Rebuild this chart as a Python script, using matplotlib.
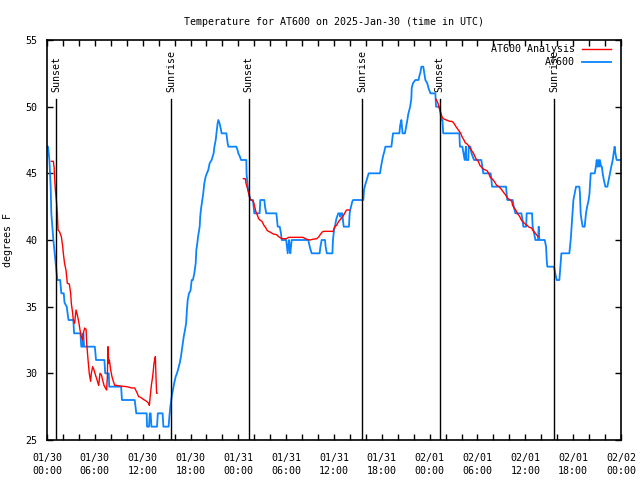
import matplotlib
matplotlib.use("Agg")
import matplotlib.pyplot as plt
from matplotlib.ticker import MultipleLocator

title = "Temperature for AT600 on 2025-Jan-30 (time in UTC)"
ylabel = "degrees F"
tick_hours = [0, 6, 12, 18, 24, 30, 36, 42, 48, 54, 60, 66, 72]
tick_labels = ["01/30\n00:00", "01/30\n06:00", "01/30\n12:00", "01/30\n18:00",
               "01/31\n00:00", "01/31\n06:00", "01/31\n12:00", "01/31\n18:00",
               "02/01\n00:00", "02/01\n06:00", "02/01\n12:00", "02/01\n18:00",
               "02/02\n00:00"]

# hours since 2025-01-30 00:00 UTC
sun_events = ["Sunset", "Sunrise", "Sunset", "Sunrise", "Sunset", "Sunrise"]
sun_hours = [1.17, 15.6, 25.29, 39.56, 49.25, 63.64]

obs_hours = [0.0, 0.13, 0.3, 0.46, 0.54, 0.67, 0.8, 0.96, 1.13, 1.3, 1.65, 1.8, 2.1, 2.2, 2.47, 2.7, 3.3, 3.4,
             4.2, 4.3, 4.5, 4.55, 4.65, 6.0, 6.15, 7.2, 7.3, 7.75, 7.8, 9.3, 9.4, 11.0, 11.2, 12.5, 12.55,
             12.8, 12.9, 13.0, 13.1, 13.8, 13.9, 14.5, 14.6, 15.25, 15.35, 15.47, 15.64, 15.8, 15.95, 16.14,
             16.3, 16.45, 16.64, 16.8, 16.98, 17.15, 17.31, 17.45, 17.55, 17.65, 17.81, 18.0, 18.15, 18.3,
             18.48, 18.65, 18.73, 18.85, 18.95, 19.15, 19.22, 19.3, 19.48, 19.6, 19.73, 19.9, 20.05, 20.23,
             20.4, 20.65, 20.9, 21.0, 21.16, 21.3, 21.4, 21.49, 21.65, 21.83, 21.9, 22.5, 22.66, 22.75, 23.75,
             23.9, 24.0, 24.2, 24.34, 25.0, 25.03, 25.17, 25.34, 25.5, 25.84, 25.92, 26.0, 26.67, 26.76,
             27.26, 27.35, 27.5, 28.77, 28.85, 28.94, 29.19, 29.35, 29.44, 30.0, 30.1, 30.19, 30.35, 30.45,
             30.52, 30.69, 32.78, 32.86, 33.0, 33.2, 34.2, 34.3, 34.45, 34.87, 34.95, 35.1, 35.8, 35.87,
             36.0, 36.12, 36.2, 36.3, 36.54, 36.7, 36.79, 36.87, 37.04, 37.12, 37.22, 37.88, 37.96, 38.13,
             38.3, 38.4, 39.68, 39.76, 39.9, 40.0, 40.15, 40.35, 41.77, 41.9, 42.05, 42.2, 42.3, 42.45, 43.2,
             43.3, 43.4, 44.2, 44.3, 44.45, 44.52, 44.6, 44.9, 45.05, 45.2, 45.3, 45.45, 45.55, 45.7, 45.75,
             45.9, 46.2, 46.6, 46.75, 46.85, 46.96, 47.2, 47.3, 47.46, 47.7, 47.85, 48.1, 48.71, 48.8, 49.2,
             49.35, 49.46, 49.6, 49.7, 51.72, 51.8, 52.1, 52.25, 52.39, 52.55, 52.6, 52.85, 52.9, 53.1, 53.25,
             53.56, 54.48, 54.6, 54.73, 55.65, 55.75, 55.82, 57.58, 57.65, 57.74, 58.41, 58.55, 58.75, 59.5,
             59.65, 59.75, 60.1, 60.17, 60.84, 60.92, 61.1, 61.26, 61.59, 61.68, 61.76, 61.84, 62.43, 62.6,
             62.68, 62.76, 63.6, 63.75, 63.93, 64.27, 64.4, 64.52, 65.52, 65.69, 65.8, 65.9, 66.03, 66.2,
             66.36, 66.78, 66.85, 66.94, 67.05, 67.19, 67.44, 67.52, 67.61, 67.75, 67.94, 68.05, 68.2, 68.7,
             68.85, 68.95, 69.05, 69.15, 69.25, 69.35, 69.5, 69.6, 69.7, 69.85, 70.04, 70.29, 70.45, 70.62,
             70.78, 70.96, 71.08, 71.2, 71.3, 71.45, 72.0]
obs_temps = [47, 47, 46, 44, 42, 41, 40, 39, 38, 37, 37, 36, 36, 35.3, 35, 34, 34, 33,
             33, 32, 32, 33, 32, 32, 31, 31, 30, 30, 29, 29, 28, 28, 27, 27, 26,
             26, 27, 27, 26, 26, 27, 27, 26, 26, 26.75, 27.5, 28.25, 28.75, 29.25, 29.75,
             30, 30.3, 30.75, 31.25, 32, 32.75, 33.25, 33.75, 34.75, 35.5, 36, 36.2, 37, 37,
             37.5, 38.25, 39.25, 39.75, 40.25, 41, 41.75, 42.25, 43, 43.5, 44.25, 44.75, 45, 45.25,
             45.75, 46, 46.5, 47, 47.5, 48.25, 48.75, 49, 48.75, 48.25, 48, 48, 47.25, 47, 47,
             46.75, 46.5, 46.25, 46, 46, 45, 44, 43.5, 43, 43, 42.5, 42, 42, 43,
             43, 42.5, 42, 42, 41.5, 41, 41, 40.5, 40, 40, 39.5, 39, 40, 39.5,
             39, 40, 40, 39.75, 39.4, 39, 39, 39.5, 40, 40, 39.5, 39, 39, 40,
             40.75, 41, 41.3, 41.6, 42, 42, 41.75, 42, 42, 41.5, 41, 41, 42, 42.5,
             42.9, 43, 43, 43.75, 44.1, 44.3, 44.6, 45, 45, 45.5, 46, 46.4, 46.6, 47, 47,
             47.5, 48, 48, 48.6, 49, 48.5, 48, 48, 48.5, 49, 49.4, 49.75, 50, 50.6, 51.4,
             51.75, 52, 52, 52.4, 52.6, 53, 53, 52.6, 52, 51.75, 51.4, 51, 51, 50, 50,
             49.6, 49, 49, 48, 48, 47, 47, 46.5, 46, 47, 46, 46, 47, 47, 46.5,
             46, 46, 45.5, 45, 45, 44.5, 44, 44, 43.5, 43, 43, 42.5, 42, 42,
             41.5, 41, 41, 42, 42, 41, 40.5, 40, 40, 41, 40, 40, 40, 39.5,
             38.5, 38, 38, 37.5, 37, 37, 38, 39, 39, 40, 41, 42, 43, 43.5,
             44, 44, 43.5, 42, 41.5, 41, 41, 41.5, 42, 42.5, 43, 43.5, 45, 45,
             45.5, 46, 45.5, 46, 45.5, 46, 45.5, 45.5, 45, 44.5, 44, 44, 44.5, 45,
             45.5, 46, 46.5, 47, 46.5, 46, 46]

ana1_hours = [0.55, 0.8, 0.9, 0.97, 1.05, 1.13, 1.21, 1.3, 1.38, 1.55, 1.8, 1.97, 2.05, 2.2, 2.38, 2.55,
              2.8, 2.97, 3.05, 3.2, 3.3, 3.47, 3.55, 3.64, 3.8, 3.97, 4.14, 4.3, 4.47, 4.56, 4.72, 4.9,
              4.98, 5.15, 5.3, 5.47, 5.56, 5.73, 5.9, 6.06, 6.23, 6.4, 6.48, 6.65, 6.81, 6.98, 7.15, 7.32,
              7.48, 7.57, 7.65, 7.74, 7.82, 7.99, 8.15, 8.32, 8.49, 8.65, 9.15, 10.0, 10.66, 11.0, 11.25,
              11.5, 11.75, 12.08, 12.5, 12.75, 12.84, 12.92, 13.09, 13.25, 13.34, 13.42, 13.5, 13.59,
              13.67, 13.75, 13.8]
ana1_temps = [45.9, 45.9, 45.4, 44.5, 43.75, 43.25, 42.75, 42, 40.75, 40.65, 40.25, 39.5, 39, 38.25, 37.75,
              36.75, 36.7, 36, 35.25, 34.6, 34, 33.75, 34.25, 34.75, 34.4, 33.9, 33.25, 32.75, 32.5, 33,
              33.4, 33.3, 32.25, 31, 30, 29.4, 30, 30.5, 30.25, 29.9, 29.6, 29.25, 29.1, 30, 29.9, 29.5,
              29.1, 28.9, 28.75, 29.75, 32, 30.75, 31, 30.25, 29.75, 29.4, 29.1, 29.1, 29.05, 29, 28.9,
              28.9, 28.6, 28.25, 28.2, 28.05, 27.9, 27.75, 27.6, 28.1, 29.1, 29.75, 30.25, 30.75, 31,
              31.25, 29.75, 28.5, 28.5]
ana2_hours = [24.63, 24.88, 24.96, 25.13, 25.3, 25.46, 25.63, 25.88, 26.05, 26.21, 26.3, 26.55, 26.71,
              26.96, 27.21, 27.46, 27.63, 27.97, 28.39, 28.8, 29.05, 29.47, 30.05, 30.3, 32.1, 32.6, 33.0,
              33.3, 33.85, 34.1, 34.27, 34.52, 34.7, 35.9, 36.08, 36.33, 36.58, 36.75, 37.0, 37.25, 37.42,
              37.58, 37.96]
ana2_temps = [44.6, 44.6, 44.25, 43.9, 43.5, 43.1, 43, 42.9, 42.5, 42.1, 42, 41.6, 41.5, 41.4, 41.1, 40.9,
              40.7, 40.6, 40.45, 40.4, 40.25, 40.1, 40.1, 40.2, 40.2, 40.05, 40, 40.05, 40.1, 40.25, 40.4,
              40.6, 40.65, 40.65, 41, 41.1, 41.4, 41.5, 41.7, 41.9, 42.1, 42.25, 42.25]
ana3_hours = [48.8, 49.05, 49.2, 49.4, 49.55, 49.7, 50.1, 50.5, 50.8, 51.05, 51.3, 51.6, 51.9, 52.05,
              52.3, 52.45, 52.7, 52.97, 53.2, 53.5, 53.8, 54.1, 54.3, 54.6, 54.8, 55.2, 55.4, 55.6, 55.9,
              56.1, 56.4, 56.7, 57.0, 57.3, 57.5, 57.8, 58.0, 58.3, 58.4, 58.6, 58.8, 59.0, 59.3, 59.5,
              59.8, 60.0, 60.3, 60.5, 60.8, 60.9, 61.2, 61.4, 61.6]
ana3_temps = [50.55, 50.25, 49.9, 49.5, 49.25, 49.1, 49, 48.9, 48.9, 48.75, 48.5, 48.25, 48, 47.75, 47.5,
              47.3, 47.2, 47, 46.75, 46.5, 46.1, 45.9, 45.6, 45.4, 45.3, 45.2, 45, 44.7, 44.55, 44.4, 44.1,
              44, 43.8, 43.55, 43.4, 43.1, 43.05, 42.9, 42.6, 42.4, 42.25, 42, 41.75, 41.5, 41.3, 41.2,
              41.05, 40.95, 40.9, 40.75, 40.55, 40.4, 40.25]

FONT = "DejaVu Sans Mono"
FS = 7.2
plt.rcParams["font.family"] = FONT

fig = plt.figure(figsize=(6.4, 4.8), dpi=100)
ax = fig.add_axes([47 / 640, 40 / 480, 574 / 640, 400 / 480])

red = "#ff0000"
blue = "#0a84ff"
ax.plot(ana1_hours, ana1_temps, color=red, lw=1.0, label="AT600 Analysis", zorder=3)
ax.plot(ana2_hours, ana2_temps, color=red, lw=1.0, zorder=3)
ax.plot(ana3_hours, ana3_temps, color=red, lw=1.0, zorder=3)
ax.plot(obs_hours, obs_temps, color=blue, lw=1.3, label="AT600", zorder=2)

for name, h in zip(sun_events, sun_hours):
    ax.plot([h, h], [25, 50.6], color="black", lw=1.0, zorder=4)
    ax.text(h, 51.1, name, rotation=90, ha="center", va="bottom", fontsize=FS, fontfamily=FONT)

ax.set_xlim(0, 72)
ax.set_ylim(25, 55)
ax.set_xticks(tick_hours)
ax.set_xticklabels(tick_labels, fontsize=FS, linespacing=1.5)
ax.xaxis.set_minor_locator(MultipleLocator(2))
ax.set_yticks([25, 30, 35, 40, 45, 50, 55])
ax.tick_params(axis="both", which="both", direction="in", top=True, right=True,
               length=4, width=1, labelsize=FS, color="black")
ax.tick_params(axis="y", pad=7)
ax.tick_params(axis="x", pad=9)
for s in ax.spines.values():
    s.set_linewidth(1.2)

ax.set_title(title, fontsize=FS, pad=11)
ax.set_ylabel(ylabel, fontsize=FS, labelpad=9)

leg = ax.legend(loc="upper right", bbox_to_anchor=(0.993, 1.004), frameon=False, markerfirst=False,
                fontsize=FS, handlelength=2.9, handletextpad=0.7, labelspacing=0.3,
                borderaxespad=0.2)

fig.savefig("out.png", dpi=100)
